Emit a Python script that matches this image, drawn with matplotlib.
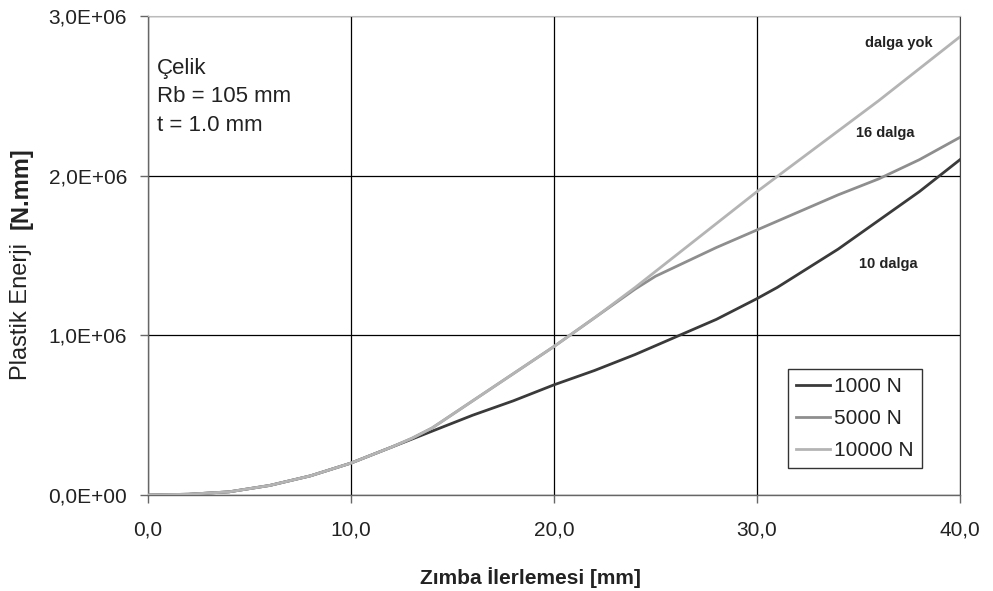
import matplotlib
matplotlib.use("Agg")
import matplotlib.pyplot as plt
from matplotlib.ticker import FuncFormatter
import numpy as np

plt.rcParams['font.family'] = ['Liberation Sans', 'DejaVu Sans']

# Data (x in mm, energy in N.mm)
x_1000 = [0, 2, 4, 6, 8, 10, 12, 13, 14, 16, 18, 20, 22, 24, 26, 28, 30, 31, 32, 33, 34, 35,
          36, 37, 38, 39, 40]
e_1000 = [0, 0.005e6, 0.02e6, 0.06e6, 0.12e6, 0.2e6, 0.30e6, 0.35e6, 0.40e6, 0.50e6, 0.59e6,
          0.69e6, 0.78e6, 0.88e6, 0.99e6, 1.10e6, 1.23e6, 1.30e6, 1.38e6, 1.46e6, 1.54e6, 1.63e6,
          1.72e6, 1.81e6, 1.90e6, 2.00e6, 2.10e6]

x_5000 = [0, 2, 4, 6, 8, 10, 12, 13, 14, 16, 18, 20, 22, 23, 24, 24.5, 25, 26, 27, 28, 29, 30,
          31, 32, 33, 34, 35, 36, 37, 38, 39, 40]
e_5000 = [0, 0.005e6, 0.02e6, 0.06e6, 0.12e6, 0.2e6, 0.30e6, 0.355e6, 0.42e6, 0.59e6, 0.76e6,
          0.93e6, 1.11e6, 1.20e6, 1.29e6, 1.33e6, 1.37e6, 1.43e6, 1.49e6, 1.55e6, 1.605e6, 1.66e6,
          1.715e6, 1.77e6, 1.825e6, 1.88e6, 1.93e6, 1.98e6, 2.04e6, 2.10e6, 2.17e6, 2.24e6]

x_10000 = [0, 2, 4, 6, 8, 10, 12, 13, 14, 16, 18, 20, 22, 24, 26, 28, 30, 32, 34, 36, 38, 40]
e_10000 = [0, 0.005e6, 0.02e6, 0.06e6, 0.12e6, 0.2e6, 0.30e6, 0.355e6, 0.42e6, 0.59e6, 0.76e6,
           0.93e6, 1.11e6, 1.30e6, 1.50e6, 1.70e6, 1.90e6, 2.09e6, 2.28e6, 2.47e6, 2.67e6, 2.87e6]

series_labels = ["1000 N", "5000 N", "10000 N"]
series_colors = ["#3a3a3a", "#8e8e8e", "#b4b4b4"]

annotations = ["dalga yok", "16 dalga", "10 dalga"]
annot_pos = [(37.0, 2.83e6), (36.3, 2.27e6), (36.45, 1.45e6)]

fig = plt.figure(figsize=(9.93, 5.91), dpi=100)
ax = fig.add_axes([0.149, 0.1624, 0.8177, 0.8105])

for xs, es, lab, col in zip([x_1000, x_5000, x_10000], [e_1000, e_5000, e_10000],
                            series_labels, series_colors):
    ax.plot(xs, es, color=col, lw=2.0, label=lab, zorder=3)

ax.set_xlim(0, 40)
ax.set_ylim(0, 3e6)
ax.set_xticks([0, 10, 20, 30, 40])
ax.set_yticks([0, 1e6, 2e6, 3e6])
ax.xaxis.set_major_formatter(FuncFormatter(lambda v, p: f"{v:.1f}".replace('.', ',')))
ax.yaxis.set_major_formatter(FuncFormatter(lambda v, p: ("%.1E" % v).replace('.', ',')))
ax.grid(True, color='black', lw=0.9, zorder=1)
ax.set_axisbelow(True)

for s in ['left', 'bottom']:
    ax.spines[s].set_color('#666666')
    ax.spines[s].set_linewidth(1.0)
ax.spines['top'].set_color('#bbbbbb')
ax.spines['right'].set_color('#444444')
ax.tick_params(axis='both', direction='out', length=6, width=1, color='#666666',
               labelsize=15, labelcolor='#222222')
ax.tick_params(axis='x', pad=12)
ax.tick_params(axis='y', pad=9)

# Y label: regular part + bold unit
fig.text(21 / 993, 1 - 312 / 591, "Plastik Enerji", rotation=90, fontsize=17,
         color='#222222', ha='center', va='center')
fig.text(21 / 993, 1 - 188 / 591, "[N.mm]", rotation=90, fontsize=17, fontweight='bold',
         color='#222222', ha='center', va='center')

fig.text(530 / 993, 1 - 578 / 591, "Zımba İlerlemesi [mm]", fontsize=15, fontweight='bold',
         color='#222222', ha='center', va='center')

ax.text(0.45, 2.74e6, "Çelik\nRb = 105 mm\nt = 1.0 mm", fontsize=16, color='#222222',
        va='top', ha='left', linespacing=1.47)

for txt, (tx, ty) in zip(annotations, annot_pos):
    ax.text(tx, ty, txt, fontsize=10.5, fontweight='bold', color='#222222', ha='center',
            va='center')

leg = ax.legend(loc='lower right', bbox_to_anchor=(0.953, 0.056), fontsize=15, frameon=True,
                fancybox=False, edgecolor='black', handlelength=1.6, handletextpad=0.2,
                borderpad=0.4, labelspacing=0.62, borderaxespad=0)
leg.get_frame().set_linewidth(1.0)
for t in leg.get_texts():
    t.set_color('#222222')

fig.savefig("out.png", dpi=100)
